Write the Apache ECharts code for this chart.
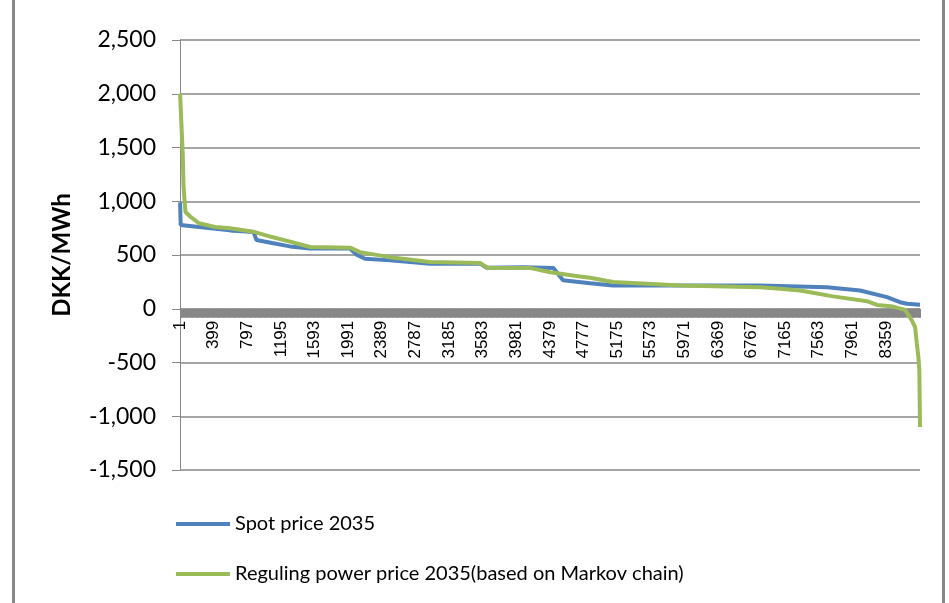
<!DOCTYPE html>
<html>
<head>
<meta charset="utf-8">
<title>Spot and regulating power price duration curves 2035</title>
<script src="https://cdn.jsdelivr.net/npm/echarts@6/dist/echarts.min.js"></script>
<style>
  html, body { margin: 0; padding: 0; background: #fff; }
  #chart { width: 949px; height: 603px; }
</style>
</head>
<body>
<div id="chart"></div>
<script>
// Hours of the year (sorted, duration curve) and prices in DKK/MWh
const spotHours = [1, 8, 225, 592, 870, 905, 1089, 1302, 1540, 2013, 2095, 2190, 2486, 2960, 3552, 3630, 4060, 4420, 4499, 4534, 4854, 5126, 5919, 6866, 7660, 8050, 8370, 8524, 8607, 8760];
const spotPrice = [990, 780, 760, 729, 715, 640, 611, 580, 560, 560, 500, 465, 450, 419, 420, 382, 387, 378, 300, 265, 238, 217, 217, 217, 201, 170, 108, 61, 46, 37];

const regHours = [1, 20, 32, 42, 65, 118, 225, 414, 592, 888, 1089, 1326, 1539, 2013, 2131, 2486, 2960, 3552, 3640, 4143, 4380, 4735, 4854, 5126, 5919, 6866, 7103, 7340, 7731, 8133, 8251, 8441, 8583, 8662, 8702, 8722, 8741, 8752, 8760];
const regPrice = [2000, 1660, 1445, 1130, 900, 860, 795, 760, 748, 713, 667, 620, 574, 568, 527, 480, 434, 425, 382, 380, 340, 300, 288, 248, 217, 201, 186, 170, 115, 70, 35, 20, -10, -105, -171, -320, -451, -574, -1100];

const hourTicks = [1, 399, 797, 1195, 1593, 1991, 2389, 2787, 3185, 3583, 3981, 4379, 4777, 5175, 5573, 5971, 6369, 6767, 7165, 7563, 7961, 8359];
const priceTicks = [-1500, -1000, -500, 0, 500, 1000, 1500, 2000, 2500];

const seriesNames = ['Spot price 2035', 'Reguling power price 2035(based on Markov chain)'];
const seriesColors = ['#4F81BD', '#9BBB59'];

const pairs = (xs, ys) => xs.map((x, i) => [x, ys[i]]);

const gridTop = 40;
const gridBottom = 133;
const plotHeight = 603 - gridTop - gridBottom;
const yMin = priceTicks[0];
const yMax = priceTicks[priceTicks.length - 1];
// the hour axis sits at price 0, lifted up from the bottom edge of the plot
const zeroLift = plotHeight * (0 - yMin) / (yMax - yMin);

const chart = echarts.init(document.getElementById('chart'));
const gray = '#878787';

chart.setOption({
  animation: false,
  backgroundColor: '#fff',
  grid: { left: 180, right: 29, top: gridTop, bottom: gridBottom, containLabel: false },
  xAxis: {
    type: 'value',
    position: 'bottom',
    offset: -zeroLift,
    min: 0,
    max: 8760,
    interval: 398,
    axisLine: { show: true, onZero: false, lineStyle: { color: gray, width: 1 } },
    axisTick: { show: true, length: 9, lineStyle: { color: gray, width: 1 } },
    minorTick: { show: true, splitNumber: 40, length: 9, lineStyle: { color: gray, width: 1 } },
    splitLine: { show: false },
    axisLabel: {
      rotate: 90,
      margin: 12,
      fontFamily: 'Liberation Sans',
      fontSize: 17,
      color: '#000',
      formatter: v => hourTicks.includes(v + 1) ? String(v + 1) : ''
    }
  },
  yAxis: {
    type: 'value',
    min: yMin,
    max: yMax,
    interval: 500,
    name: 'DKK/MWh',
    nameLocation: 'middle',
    nameRotate: 90,
    nameGap: 106,
    nameTextStyle: { fontFamily: 'Lato', fontWeight: 'bold', fontSize: 24, color: '#000' },
    axisLine: { show: true, onZero: false, lineStyle: { color: gray, width: 1 } },
    axisTick: { show: true, length: 8, lineStyle: { color: gray, width: 1 } },
    splitLine: { show: true, lineStyle: { color: gray, width: 1.5 } },
    axisLabel: {
      margin: 24,
      fontFamily: 'Lato',
      fontSize: 23,
      color: '#000',
      formatter: v => v.toLocaleString('en-US')
    }
  },
  legend: {
    orient: 'vertical',
    left: 171,
    top: 507,
    icon: 'rect',
    itemWidth: 54,
    itemHeight: 4,
    itemGap: 26,
    textStyle: { fontFamily: 'Lato', fontSize: 20, color: '#000', lineHeight: 24 },
    data: seriesNames
  },
  graphic: [
    { type: 'rect', shape: { x: 12, y: 0, width: 3, height: 603 }, style: { fill: gray } },
    { type: 'rect', shape: { x: 942, y: 0, width: 3, height: 603 }, style: { fill: gray } }
  ],
  series: [
    {
      name: seriesNames[0],
      type: 'line',
      data: pairs(spotHours, spotPrice),
      showSymbol: false,
      symbol: 'none',
      color: seriesColors[0],
      lineStyle: { width: 4, color: seriesColors[0] },
      z: 2
    },
    {
      name: seriesNames[1],
      type: 'line',
      data: pairs(regHours, regPrice),
      showSymbol: false,
      symbol: 'none',
      color: seriesColors[1],
      lineStyle: { width: 4, color: seriesColors[1] },
      z: 3
    }
  ]
});
</script>
</body>
</html>
